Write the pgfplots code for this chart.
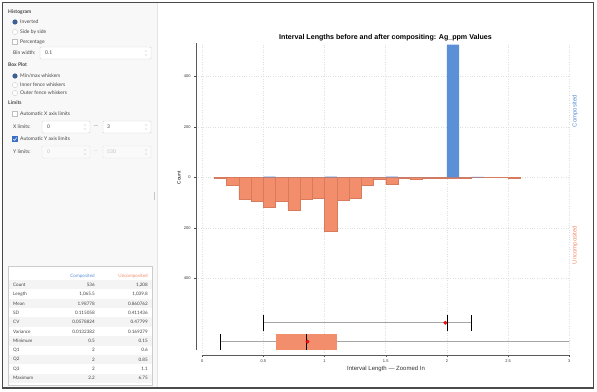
\documentclass[border=0pt]{standalone}
\usepackage{pgfplots}
\pgfplotsset{compat=1.18}
\usepackage{fontspec}
\setmainfont{Liberation Sans}
\newfontfamily\ui{Lato}
\definecolor{comp}{HTML}{5B8FD6}
\definecolor{compdark}{HTML}{4A7BC0}
\definecolor{uncomp}{HTML}{F28E6C}
\definecolor{uncompdark}{HTML}{D87A5C}
\definecolor{panel}{HTML}{F8F8F8}
\definecolor{radioblue}{HTML}{3C5F94}
\definecolor{checkblue}{HTML}{3B6FC4}
\definecolor{uitext}{HTML}{444444}
\definecolor{frame}{HTML}{4A4A4A}
\newcommand{\uisize}{\fontsize{5}{6}\selectfont}
\newcommand{\tabsize}{\fontsize{4.6}{5}\selectfont}
\begin{document}
\begin{tikzpicture}[x=1pt,y=1pt]
\useasboundingbox (0,0) rectangle (597,-391);
\fill[white] (0,0) rectangle (597,-391);
% left panel
\fill[panel] (3,-3) rectangle (157,-388);
\draw[gray!20, line width=0.5pt] (157,-3) -- (157,-388);
\fill[gray!45] (153.6,-192) rectangle (155.4,-200);
\begin{scope}[every node/.style={font=\ui\uisize, text=uitext, inner sep=0pt}]
\node[anchor=west, font=\ui\bfseries\uisize] at (8,-12) {Histogram};
% radios
\fill[radioblue] (15,-22) circle (2.6);
\node[anchor=west] at (20,-22) {Inverted};
\draw[gray!40, fill=white, line width=0.4pt] (15,-32) circle (2.6);
\node[anchor=west] at (20,-32) {Side by side};
\draw[gray!50, fill=white, line width=0.4pt] (12.4,-39.4) rectangle (17.6,-44.6);
\node[anchor=west] at (20,-42) {Percentage};
\node[anchor=west] at (13,-53) {Bin width:};
\draw[gray!35, fill=white, line width=0.4pt, rounded corners=1pt] (40,-47) rectangle (151,-59);
\node[anchor=west] at (45,-53) {0.1};
\node[anchor=west, font=\ui\bfseries\uisize] at (8,-65) {Box Plot};
\fill[radioblue] (15,-76) circle (2.6);
\node[anchor=west] at (20,-76) {Min/max whiskers};
\draw[gray!40, fill=white, line width=0.4pt] (15,-85) circle (2.6);
\node[anchor=west] at (20,-85) {Inner fence whiskers};
\draw[gray!40, fill=white, line width=0.4pt] (15,-93) circle (2.6);
\node[anchor=west] at (20,-93) {Outer fence whiskers};
\node[anchor=west, font=\ui\bfseries\uisize] at (8,-103) {Limits};
\draw[gray!50, fill=white, line width=0.4pt] (12.4,-111.4) rectangle (17.6,-116.6);
\node[anchor=west] at (20,-114) {Automatic X axis limits};
\node[anchor=west] at (13,-127) {X limits:};
\draw[gray!35, fill=white, line width=0.4pt, rounded corners=1pt] (42,-121) rectangle (90,-133);
\node[anchor=west] at (47,-127) {0};
\node at (96,-127) {--};
\draw[gray!35, fill=white, line width=0.4pt, rounded corners=1pt] (103,-121) rectangle (151,-133);
\node[anchor=west] at (107,-127) {3};
\fill[checkblue] (12.4,-136.4) rectangle (17.6,-141.6);
\draw[white, line width=0.5pt] (13.4,-139.1) -- (14.6,-140.4) -- (16.7,-137.6);
\node[anchor=west] at (20,-139) {Automatic Y axis limits};
\node[anchor=west] at (13,-152) {Y limits:};
\draw[gray!20, fill=gray!4, line width=0.4pt, rounded corners=1pt] (42,-146) rectangle (90,-158);
\node[anchor=west, text=gray!50] at (47,-152) {0};
\node[text=gray!50] at (96,-152) {--};
\draw[gray!20, fill=gray!4, line width=0.4pt, rounded corners=1pt] (103,-146) rectangle (151,-158);
\node[anchor=west, text=gray!50] at (107,-152) {530};
\end{scope}
% spinner arrows
\foreach \yy/\xx in {-53/146, -127/85, -127/146, -152/85, -152/146}{
  \draw[gray!55, line width=0.3pt] (\xx-1,\yy+1.5) -- (\xx,\yy+2.5) -- (\xx+1,\yy+1.5);
  \draw[gray!55, line width=0.3pt] (\xx-1,\yy-1.5) -- (\xx,\yy-2.5) -- (\xx+1,\yy-1.5);
}
% stats table
\fill[white] (8,-266) rectangle (152,-385);
\foreach \k in {0,2,4,6,8,10}{
  \fill[gray!9] (8.3,-284.7-9.36*\k+4.68) rectangle (151.7,-284.7-9.36*\k-4.68);
}
\draw[gray!40, line width=0.5pt] (8,-266) rectangle (152,-385);
\begin{scope}[every node/.style={font=\ui\tabsize, text=uitext, inner sep=0pt}]
\node[anchor=east, text=comp] at (95,-275.7) {Composited};
\node[anchor=east, text=uncomp] at (148,-275.7) {Uncomposited};
\foreach \lab/\a/\b [count=\i from 0] in {Count/536/{1,208}, Length/{1,065.5}/{1,039.8}, Mean/1.98778/0.860762, SD/0.115058/0.411436, CV/0.0578824/0.47799, Variance/0.0132382/0.169279, Minimum/0.5/0.15, Q1/2/0.6, Q2/2/0.85, Q3/2/1.1, Maximum/2.2/6.75}{
  \node[anchor=west] at (13,-284.7-9.36*\i) {\lab};
  \node[anchor=east] at (95,-284.7-9.36*\i) {\a};
  \node[anchor=east] at (148,-284.7-9.36*\i) {\b};
}
\end{scope}
% chart
\begin{axis}[
  at={(196pt,-355pt)}, anchor=south west, scale only axis,
  width=373.3pt, height=312pt,
  xmin=-0.05, xmax=3, ymin=-703.8, ymax=531.9,
  axis y line=left, axis x line=bottom,
  axis line style={draw=none},
  xtick={0,0.5,1,1.5,2,2.5,3}, xticklabels={0,0.5,1,1.5,2,2.5,3},
  ytick={-400,-200,0,200,400}, yticklabels={400,200,0,200,400},
  tick label style={font=\fontsize{4}{4.5}\selectfont, text=black!80},
  xticklabel style={yshift=1pt},
  tick align=outside, major tick length=1.8pt,
  tick style={black!70, line width=0.4pt},
  grid=major, grid style={gray!25, dotted, line width=0.55pt},
  clip mode=individual,
]
% uncomposited histogram (inverted)
\addplot[ybar interval, fill=uncomp, draw=uncompdark, line width=0.3pt] coordinates {
 (0.1,-3) (0.2,-33) (0.3,-86) (0.4,-94) (0.5,-119) (0.6,-96) (0.7,-129) (0.8,-87)
 (0.9,-83) (1.0,-212) (1.1,-91) (1.2,-83) (1.3,-30) (1.4,-6) (1.5,-28) (1.6,-3)
 (1.7,-9) (1.8,-5) (1.9,-2) (2.0,-3) (2.1,-2) (2.2,-1) (2.3,0) (2.4,0) (2.5,-2) (2.6,0)};
% composited histogram
\addplot[ybar interval, fill=comp, draw=none] coordinates {
 (0.5,3) (0.6,0) (1.0,3) (1.1,0) (1.5,3) (1.6,0) (2.0,525) (2.1,0) (2.2,2) (2.3,0)};
% composited box plot
\addplot[gray!70, line width=1.3pt] coordinates {(0.5,-576) (2.2,-576)};
\addplot[black, line width=0.9pt] coordinates {(0.5,-545) (0.5,-607)};
\addplot[black, line width=0.9pt] coordinates {(2.2,-545) (2.2,-607)};
\addplot[black, line width=0.7pt] coordinates {(2,-545) (2,-607)};
\addplot[only marks, mark=*, mark size=1.7pt, color=red!85!black, fill=red!90] coordinates {(1.98778,-576)};
% uncomposited box plot
\addplot[gray!70, line width=1.3pt] coordinates {(0.15,-651) (6.75,-651)};
\addplot[fill=uncomp, draw=none] coordinates {(0.6,-619) (1.1,-619) (1.1,-683) (0.6,-683)} -- cycle;
\addplot[black, line width=0.9pt] coordinates {(0.15,-620) (0.15,-682)};
\addplot[black, line width=0.7pt] coordinates {(0.85,-619) (0.85,-683)};
\addplot[only marks, mark=*, mark size=1.7pt, color=red!85!black, fill=red!90] coordinates {(0.860762,-651)};
% axis lines
\draw[black!65, line width=0.6pt] (axis cs:-0.05,-684) -- (axis cs:-0.05,531.9);
\draw[black!65, line width=0.6pt] (axis cs:0,-703.8) -- (axis cs:3,-703.8);
\end{axis}
\node[font=\bfseries\fontsize{7.1}{8}\selectfont] at (385.5,-37.3) {Interval Lengths before and after compositing: Ag\_ppm Values};
\node[font=\fontsize{4.8}{5}\selectfont, rotate=90] at (179,-178) {Count};
\node[font=\fontsize{6}{7}\selectfont, text=black!80] at (386,-369) {Interval Length --- Zoomed In};
\node[font=\fontsize{6}{7}\selectfont, rotate=90, text=comp] at (575,-111) {Composited};
\node[font=\fontsize{6}{7}\selectfont, rotate=90, text=uncomp] at (575,-245) {Uncomposited};
% outer frame
\draw[frame, line width=1.1pt] (2.8,-2.8) rectangle (593.5,-388);
\end{tikzpicture}
\end{document}
